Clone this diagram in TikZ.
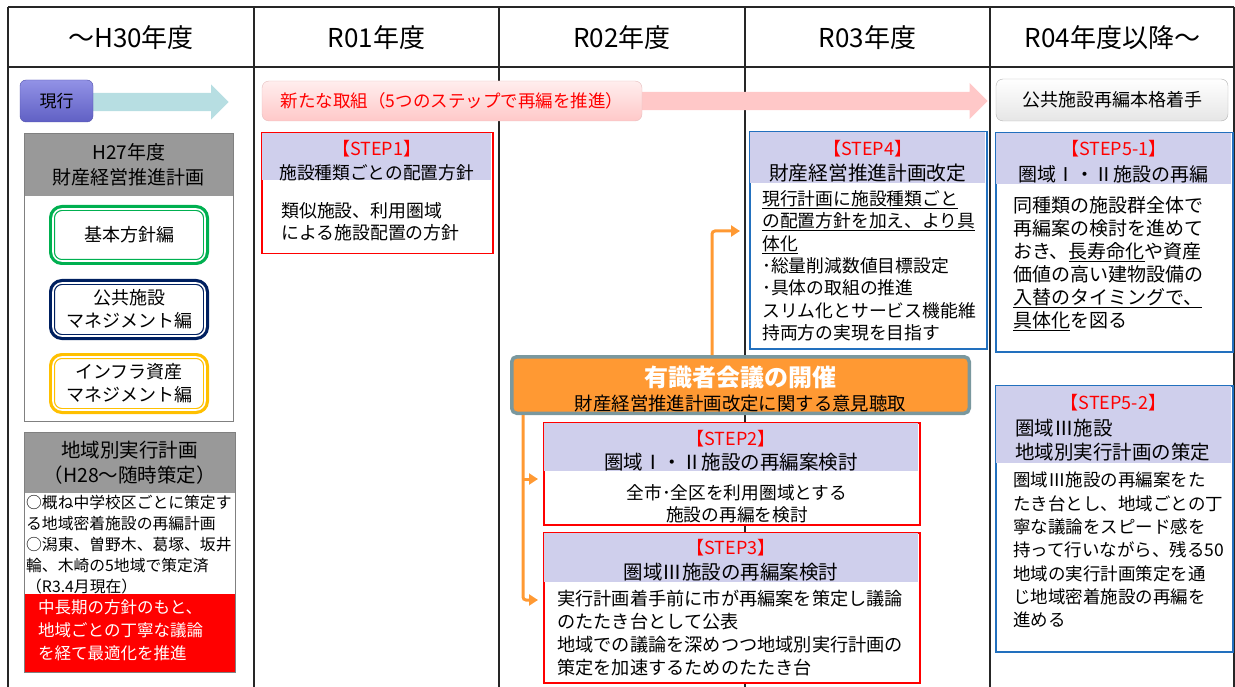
\documentclass[tikz,border=0pt]{standalone}
\usepackage{fontspec}
\setmainfont{Noto Sans CJK JP}
\usepackage{tikz}
\usetikzlibrary{arrows.meta,shapes.arrows}

\definecolor{Lavender}{RGB}{207,207,236}
\definecolor{StepRed}{RGB}{255,0,0}
\definecolor{StepBlue}{RGB}{34,112,190}
\definecolor{MeetOrange}{RGB}{255,153,51}
\definecolor{MeetRim}{RGB}{122,152,158}
\definecolor{HeadGray}{RGB}{153,153,153}
\definecolor{FrameGray}{RGB}{128,128,128}
\definecolor{PlanGreen}{RGB}{0,176,80}
\definecolor{PlanNavy}{RGB}{0,32,96}
\definecolor{PlanGold}{RGB}{255,192,0}
\definecolor{NowCyan}{RGB}{183,222,226}
\definecolor{NowTop}{RGB}{146,146,230}
\definecolor{NowBottom}{RGB}{96,96,196}
\definecolor{NowRim}{RGB}{80,80,170}
\definecolor{NewPink}{RGB}{255,200,200}
\definecolor{NewTop}{RGB}{255,238,238}
\definecolor{NewRim}{RGB}{230,190,190}

\newcommand{\fsz}[2]{\fontsize{#1}{#2}\selectfont}
\newcommand{\steptag}[1]{{\fsz{18}{24}\textcolor{StepRed}{【#1】}}}

\begin{document}
\begin{tikzpicture}[x=1pt, y=-1pt, inner sep=0pt,
        gridline/.style={draw=black!85, line width=1.5pt},
        stepframe/.style={draw=#1, line width=1.5pt, fill=white, anchor=north west},
        boxframe/.style={draw=FrameGray, line width=1pt, fill=white, anchor=north west},
        stephead/.style={fill=#1, anchor=north west},
        planbox/.style={draw=#1, line width=1.2pt, double=white, double distance=1.6pt,
          fill=white, rounded corners=9pt, preaction={draw=#1, line width=8pt},
          minimum width=152pt, align=center, font=\fsz{18}{23}},
        meetarrow/.style={draw=MeetOrange, line width=3pt, rounded corners=3pt,
          -{Triangle[length=9pt,width=11pt]}}]
      \tikzstyle{yearhead} = [font=\fsz{26}{28}]
      \tikzstyle{steptitle} = [align=center]
      \tikzstyle{bodytext} = [align=left, anchor=north west]
      \useasboundingbox (0,0) rectangle (1235,687);

      \draw[gridline] (8,7) -- (1234,7);
      \draw[gridline] (8,67) -- (1234,67);
      \foreach \x in {8,254,499,745,990,1234}
        \draw[gridline] (\x,7) -- (\x,687);

      \node (h30) [yearhead] at (131,38) {～H30年度};
      \node (r01) [yearhead] at (376.5,38) {R01年度};
      \node (r02) [yearhead] at (622,38) {R02年度};
      \node (r03) [yearhead] at (867.5,38) {R03年度};
      \node (r04) [yearhead] at (1112.5,38) {R04年度以降～};

      \node (nowarrow) [single arrow, fill=NowCyan, inner sep=9pt, single arrow head extend=8.5pt,
        minimum height=170pt, anchor=east] at (229,102) {};
      \node (newarrow) [single arrow, fill=NewPink, inner sep=9pt, single arrow head extend=9pt,
        minimum height=380pt, anchor=east] at (988,101) {};
      \node (current) [draw=NowRim, top color=NowTop, bottom color=NowBottom, rounded corners=6pt,
        minimum width=73pt, minimum height=42pt, font=\fsz{17}{20}] at (56.5,101) {現行};
      \node (newsteps) [draw=NewRim, top color=NewTop, bottom color=NewPink, rounded corners=7pt,
        minimum width=380pt, minimum height=40pt, text=StepRed, font=\fsz{17.5}{20}] at (452,101)
        {新たな取組（5つのステップで再編を推進）};
      \node (fullstart) [draw=black!30, top color=white, bottom color=black!10, rounded corners=7pt,
        minimum width=232pt, minimum height=42pt, font=\fsz{18}{20}] at (1112,100) {公共施設再編本格着手};

      \node (plan) [boxframe, minimum width=209pt, minimum height=288pt] at (24,133) {};
      \node (planhead) [stephead=HeadGray, minimum width=208pt, minimum height=62pt, align=center,
        font=\fsz{19}{25}] at (24.5,133.5) {H27年度\\財産経営推進計画};
      \node (basic) [planbox=PlanGreen, minimum height=52pt] at (129,235) {基本方針編};
      \node (public) [planbox=PlanNavy, minimum height=53pt] at (129,309.5) {公共施設\\マネジメント編};
      \node (infra) [planbox=PlanGold, minimum height=53pt] at (129,383.5) {インフラ資産\\マネジメント編};

      \node (area) [boxframe, minimum width=211pt, minimum height=240pt] at (24,432) {};
      \node (areahead) [stephead=HeadGray, minimum width=210pt, minimum height=60.5pt, align=center,
        font=\fsz{19.5}{25}] at (24.5,432.5) {地域別実行計画\\（H28～随時策定）};
      \node (areagoal) [stephead=StepRed, minimum width=210pt, minimum height=77.5pt] at (24.5,594) {};
      \node (areanote) [bodytext, font=\fsz{15.8}{21}] at (26,494.5)
        {○概ね中学校区ごとに策定す\\る地域密着施設の再編計画\\○潟東、曽野木、葛塚、坂井\\輪、木崎の5地域で策定済\\（R3.4月現在）};
      \node (goaltext) [bodytext, text=white, font=\fsz{16.5}{23}] at (38,599.6)
        {中長期の方針のもと、\\地域ごとの丁寧な議論\\を経て最適化を推進};

      \node (step1) [stepframe=StepRed, minimum width=231pt, minimum height=121pt] at (261,132) {};
      \node (step1head) [stephead=Lavender, minimum width=229.5pt, minimum height=47.25pt] at (261.75,132.75) {};
      \node (step1title) [steptitle, font=\fsz{17.7}{24}] at ([yshift=-4pt]step1head.center)
        {\steptag{STEP1}\\施設種類ごとの配置方針};
      \node (step1text) [bodytext, font=\fsz{17.9}{22.5}] at (281,202) {類似施設、利用圏域\\による施設配置の方針};

      \node (step4) [stepframe=StepBlue, minimum width=237pt, minimum height=217pt] at (749,131) {};
      \node (step4head) [stephead=Lavender, minimum width=235.5pt, minimum height=51.25pt] at (749.75,131.75) {};
      \node (step4title) [steptitle, font=\fsz{19.7}{25}] at ([yshift=-3.5pt]step4head.center)
        {\steptag{STEP4}\\財産経営推進計画改定};
      \node (step4text) [bodytext, font=\fsz{17.8}{22.4}] at (762,190)
        {\underline{現行計画に施設種類ごと}\\\underline{の配置方針を加え、より具}\\\underline{体化}\\･総量削減数値目標設定\\･具体の取組の推進\\スリム化とサービス機能維\\持両方の実現を目指す};

      \node (step51) [stepframe=StepBlue, minimum width=237pt, minimum height=219pt] at (995,132) {};
      \node (step51head) [stephead=Lavender, minimum width=235.5pt, minimum height=51.25pt] at (995.75,132.75) {};
      \node (step51title) [steptitle, font=\fsz{19}{26}] at ([yshift=-3pt]step51head.center)
        {\steptag{STEP5-1}\\圏域Ⅰ・Ⅱ施設の再編};
      \node (step51text) [bodytext, font=\fsz{19}{23}] at (1013,196.5)
        {同種類の施設群全体で\\再編案の検討を進めて\\おき、\underline{長寿命化}や資産\\価値の高い建物設備の\\\underline{入替のタイミングで、}\\\underline{具体化}を図る};

      \node (step52) [stepframe=StepBlue, minimum width=237pt, minimum height=266pt] at (995,385) {};
      \node (step52head) [stephead=Lavender, minimum width=235.5pt, minimum height=77.25pt] at (995.75,385.75) {};
      \node (step52tag) at (1113.5,403) {\steptag{STEP5-2}};
      \node (step52title) [bodytext, font=\fsz{19.5}{24}] at (1015,419.2) {圏域Ⅲ施設\\地域別実行計画の策定};
      \node (step52text) [bodytext, font=\fsz{17.5}{23.3}] at (1013,472)
        {圏域Ⅲ施設の再編案をた\\たき台とし、地域ごとの丁\\寧な議論をスピード感を\\持って行いながら、残る50\\地域の実行計画策定を通\\じ地域密着施設の再編を\\進める};

      \node (meeting) [draw=MeetRim, line width=3.5pt, fill=MeetOrange, rounded corners=5pt,
        minimum width=457.5pt, minimum height=56.5pt] at (740.5,385) {};
      \node (meettext) [steptitle, font=\fsz{18.4}{24}] at ([yshift=-4pt]meeting.center)
        {{\fsz{24}{24}\bfseries\textcolor{white}{有識者会議の開催}}\\財産経営推進計画改定に関する意見聴取};

      \node (step2) [stepframe=StepRed, minimum width=376pt, minimum height=102pt] at (543,422) {};
      \node (step2head) [stephead=Lavender, minimum width=374.5pt, minimum height=48.25pt] at (543.75,422.75) {};
      \node (step2title) [steptitle, font=\fsz{19.5}{24}] at ([yshift=-3.5pt]step2head.center)
        {\steptag{STEP2}\\圏域Ⅰ・Ⅱ施設の再編案検討};
      \node (step2text) [steptitle, font=\fsz{17.7}{22}] at (737,504) {全市･全区を利用圏域とする\\施設の再編を検討};

      \node (step3) [stepframe=StepRed, minimum width=376pt, minimum height=150pt] at (543,532) {};
      \node (step3head) [stephead=Lavender, minimum width=374.5pt, minimum height=49.25pt] at (543.75,532.75) {};
      \node (step3title) [steptitle, font=\fsz{19.5}{25}] at ([yshift=-2.5pt]step3head.center)
        {\steptag{STEP3}\\圏域Ⅲ施設の再編案検討};
      \node (step3text) [bodytext, font=\fsz{18.2}{23}] at (557,589.8)
        {実行計画着手前に市が再編案を策定し議論\\のたたき台として公表\\地域での議論を深めつつ地域別実行計画の\\策定を加速するためのたたき台};

      \coordinate (step4in) at (740,231);
      \coordinate (step2in) at (538,479);
      \coordinate (step3in) at (538,600);
      \coordinate (rise) at ([xshift=-28.5pt]meeting.north);
      \coordinate (trunk) at ([xshift=13pt]meeting.south west);
      \draw[meetarrow] (rise) |- (step4in);
      \draw[meetarrow] (trunk) |- (step3in);
      \draw[meetarrow] (trunk |- step2in) -- (step2in);
    \end{tikzpicture}
\end{document}
